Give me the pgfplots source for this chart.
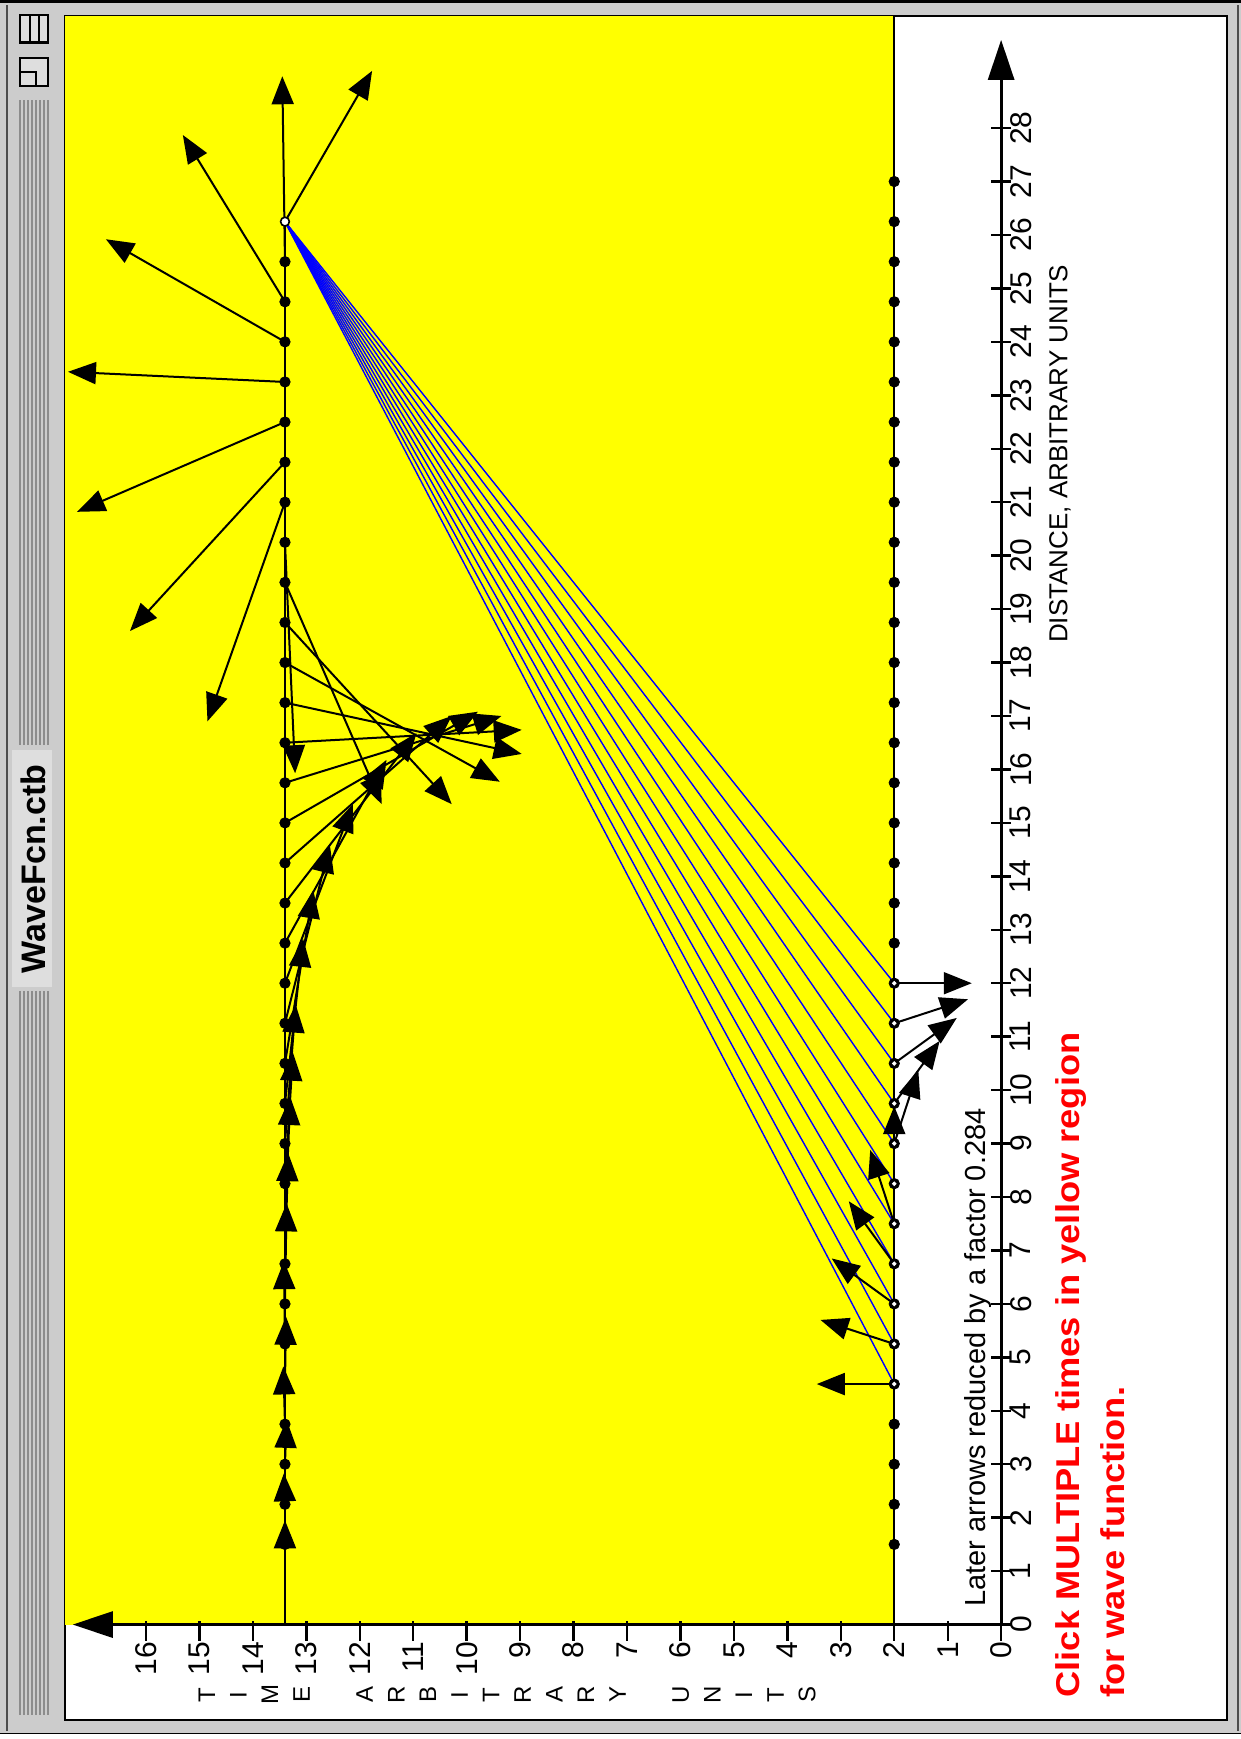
\documentclass[border=0pt]{standalone}
\usepackage{fontspec}
\setmainfont{Liberation Sans}
\newfontfamily\redfont[FakeStretch=1.1]{Liberation Sans Bold}
\usepackage{pgfplots}
\pgfplotsset{compat=1.18}
\usetikzlibrary{arrows.meta}
\definecolor{winGray}{RGB}{204,204,204}
\definecolor{stripeGray}{RGB}{140,140,140}
\definecolor{titleGray}{RGB}{222,222,222}
\definecolor{clickRed}{RGB}{255,0,0}
\definecolor{pathBlue}{RGB}{0,0,255}
\definecolor{bgYellow}{RGB}{255,255,0}

\pgfplotstableread{
x y u v
13.4 1.5 0 0.45
13.4 2.25 0.02 0.58
13.4 3 -0.03 0.83
13.4 3.75 0.03 1.08
13.4 4.5 -0.02 1.26
13.4 5.25 0.02 1.55
13.4 6 -0.03 1.88
13.4 6.75 -0.06 2.07
13.4 7.5 -0.1 2.37
13.4 8.25 -0.15 2.45
13.4 9 -0.2 2.6
13.4 9.75 -0.34 3.08
13.4 10.5 -0.53 3.24
13.4 11.25 -0.84 3.34
13.4 12 -1.27 3.35
13.4 12.75 -1.9 3.43
13.4 13.5 -2.46 3.18
13.4 14.25 -3.12 2.75
13.4 15 -3.61 2.08
13.4 15.75 -4.05 1.25
13.4 16.5 -4.43 0.24
13.4 17.25 -4.43 -0.96
13.4 18 -4.02 -2.23
13.4 18.75 -3.12 -3.4
13.4 19.5 -1.81 -4.15
13.4 20.25 -0.19 -4.32
13.4 21 1.45 -4.1
13.4 21.75 2.9 -3.16
13.4 22.5 3.89 -1.68
13.4 23.25 4.06 0.19
13.4 24 3.35 1.92
13.4 24.75 1.91 3.12
13.4 25.5 0.05 3.47
13.4 26.25 -1.63 2.82
}\laterarrows

\pgfplotstableread{
x y u v
2 4.5 1.45 0
2 5.25 1.38 0.45
2 6 1.17 0.85
2 6.75 0.85 1.17
2 7.5 0.45 1.38
2 8.25 0 1.45
2 9 -0.45 1.38
2 9.75 -0.85 1.17
2 10.5 -1.17 0.85
2 11.25 -1.38 0.45
2 12 -1.45 0
}\firstarrows

\pgfplotstableread{
x y u v
2 4.5 11.4 21.75
2 5.25 11.4 21
2 6 11.4 20.25
2 6.75 11.4 19.5
2 7.5 11.4 18.75
2 8.25 11.4 18
2 9 11.4 17.25
2 9.75 11.4 16.5
2 10.5 11.4 15.75
2 11.25 11.4 15
2 12 11.4 14.25
}\paths

\begin{document}
\begin{tikzpicture}
\begin{axis}[
  set layers,
  x=26.725pt, y=26.725pt,
  x dir=reverse,
  xmin=0, xmax=17.37, ymin=0, ymax=29.65,
  enlargelimits=false,
  clip=false,
  axis lines=middle,
  axis line style={line width=1.5pt, black},
  every inner x axis line/.append style={-{Triangle[length=20pt,width=13pt]}},
  every inner y axis line/.append style={-{Triangle[length=20pt,width=13pt]}},
  x axis line style={-{Triangle[length=20pt,width=13pt]}},
  y axis line style={-{Triangle[length=20pt,width=13pt]}},
  hide obscured x ticks=false, hide obscured y ticks=false,
  xtick={0,1,...,16}, ytick={0,1,...,28},
  tick align=center, major tick length=10pt,
  tick style={black, line width=1.2pt},
  every major x tick/.append style={yshift=-3pt},
  /pgf/number format/assume math mode=true,
  ticklabel style={font=\fontsize{15}{15}\selectfont},
  xticklabel style={rotate=90, anchor=east},
  yticklabel style={xshift=6pt, rotate=90, anchor=north},
]
\begin{pgfonlayer}{axis background}
  % window chrome
  \fill[winGray] (axis cs:18.732,-2.141) rectangle (axis cs:-4.487,30.397);
  \fill[black] (axis cs:18.732,30.34) rectangle (axis cs:-4.487,30.397);
  \fill[white] (axis cs:18.732,-2.141) rectangle (axis cs:-4.487,-2.04);
  \draw[black, line width=0.8pt] (axis cs:18.732,-2.035) -- (axis cs:-4.487,-2.035);
  \draw[gray!60!black, line width=1.2pt] (axis cs:18.6,30.3) -- (axis cs:18.6,-2.0);
  \draw[gray!60!black, line width=1pt] (axis cs:-4.43,30.3) -- (axis cs:-4.43,-2.0);
  \pgfplotsinvokeforeach{18.357,18.282,18.207,18.132,18.057,17.983,17.908,17.833}{
    \draw[stripeGray, line width=0.9pt] (axis cs:#1,28.52) -- (axis cs:#1,16.45);
    \draw[stripeGray, line width=0.9pt] (axis cs:#1,11.85) -- (axis cs:#1,-1.69);
  }
  \fill[titleGray] (axis cs:18.51,11.93) rectangle (axis cs:17.76,16.36);
  % window icons
  \draw[black, line width=1.1pt, fill=titleGray] (axis cs:18.36,29.6) rectangle (axis cs:17.83,30.12);
  \draw[black, line width=0.8pt] (axis cs:18.17,29.6) -- (axis cs:18.17,30.12);
  \draw[black, line width=0.8pt] (axis cs:18.0,29.6) -- (axis cs:18.0,30.12);
  \draw[black, line width=1.1pt, fill=titleGray] (axis cs:18.36,28.79) rectangle (axis cs:17.83,29.31);
  \draw[black, line width=0.8pt] (axis cs:18.36,29.05) -- (axis cs:18.06,29.05) -- (axis cs:18.06,28.79);
  % content area
  \fill[white, draw=black, line width=1.4pt] (axis cs:17.515,-1.785) rectangle (axis cs:-4.225,30.097);
  \fill[bgYellow] (axis cs:17.515,0) rectangle (axis cs:2,30.097);
\end{pgfonlayer}
\coordinate (BBa) at (axis cs:18.732,-2.141);
\coordinate (BBb) at (axis cs:-4.487,30.397);

% rows
\addplot[black, line width=1.2pt] coordinates {(2,0) (2,30.097)};
\addplot[black, line width=1.2pt] coordinates {(13.4,0) (13.4,26.25)};

% propagation paths
\addplot[pathBlue, line width=0.7pt, -, quiver={u=\thisrow{u}, v=\thisrow{v}}] table {\paths};

% phasor arrows
\addplot[black, line width=1pt, -{Triangle[length=14pt,width=11pt]}, quiver={u=\thisrow{u}, v=\thisrow{v}}] table {\firstarrows};
\addplot[black, line width=1pt, -{Triangle[length=14pt,width=11pt]}, quiver={u=\thisrow{u}, v=\thisrow{v}}] table {\laterarrows};

% dots
\addplot[only marks, mark=*, mark size=2.6pt, black] coordinates {
(2,1.5) (2,2.25) (2,3) (2,3.75) (2,4.5) (2,5.25) (2,6) (2,6.75) (2,7.5) (2,8.25) (2,9) (2,9.75) (2,10.5) (2,11.25) (2,12) (2,12.75) (2,13.5) (2,14.25) (2,15) (2,15.75) (2,16.5) (2,17.25) (2,18) (2,18.75) (2,19.5) (2,20.25) (2,21) (2,21.75) (2,22.5) (2,23.25) (2,24) (2,24.75) (2,25.5) (2,26.25) (2,27)
};
\addplot[only marks, mark=*, mark size=0.9pt, white] coordinates {
(2,4.5) (2,5.25) (2,6) (2,6.75) (2,7.5) (2,8.25) (2,9) (2,9.75) (2,10.5) (2,11.25) (2,12)
};
\addplot[only marks, mark=*, mark size=2.6pt, black] coordinates {
(13.4,1.5) (13.4,2.25) (13.4,3) (13.4,3.75) (13.4,4.5) (13.4,5.25) (13.4,6) (13.4,6.75) (13.4,7.5) (13.4,8.25) (13.4,9) (13.4,9.75) (13.4,10.5) (13.4,11.25) (13.4,12) (13.4,12.75) (13.4,13.5) (13.4,14.25) (13.4,15) (13.4,15.75) (13.4,16.5) (13.4,17.25) (13.4,18) (13.4,18.75) (13.4,19.5) (13.4,20.25) (13.4,21) (13.4,21.75) (13.4,22.5) (13.4,23.25) (13.4,24) (13.4,24.75) (13.4,25.5)
};
\addplot[only marks, mark=*, mark size=2.2pt, mark options={fill=white, draw=black, line width=0.8pt}] coordinates {(13.4,26.25)};

% texts
\node[rotate=90, font=\bfseries\fontsize{17}{17}\selectfont] at (axis cs:18.1,14.14) {WaveFcn.ctb};
\node[rotate=90, font=\fontsize{13}{13}\selectfont] at (axis cs:-1.1,21.9) {DISTANCE, ARBITRARY UNITS};
\node[rotate=90, anchor=base west, inner sep=0pt, font=\fontsize{14.5}{14.5}\selectfont] at (axis cs:0.3,0.33) {Later arrows reduced by a factor 0.284};
\node[rotate=90, anchor=base west, inner sep=0pt, align=left, text=clickRed, font=\redfont\fontsize{16.5}{22.5}\selectfont] at (axis cs:-2.316,-1.37) {Click MULTIPLE times in yellow region\\for wave function.};
\node[rotate=90, align=center, font=\fontsize{12}{15.8}\selectfont] at (axis cs:9.245,-1.315) {T\\I\\M\\E\\~\\A\\R\\B\\I\\T\\R\\A\\R\\Y\\~\\U\\N\\I\\T\\S};
\end{axis}
\pgfresetboundingbox
\path[use as bounding box] (BBa) rectangle (BBb);
\end{tikzpicture}
\end{document}
